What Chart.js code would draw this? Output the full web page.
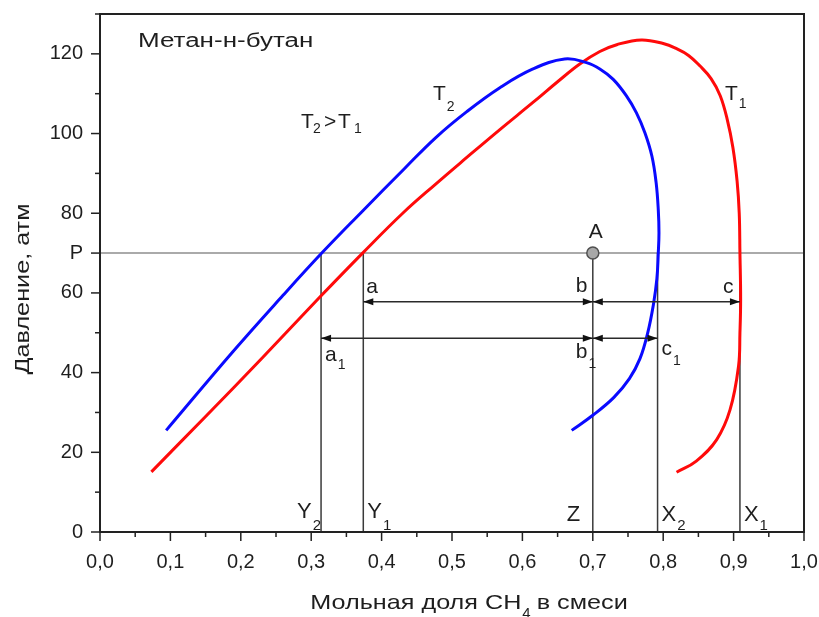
<!DOCTYPE html>
<html lang="ru">
<head>
  <meta charset="UTF-8">
  <title>Метан-н-бутан</title>
  <script src="https://cdn.jsdelivr.net/npm/chart.js@4"></script>
  <style>
    body { margin: 0; background: #fff; }
    .wrap { width: 819px; height: 617px; position: relative; }
  </style>
</head>
<body>
  <div class="wrap"><canvas id="phase"></canvas></div>

  <script>
    // phase envelope at T1 (red): mole fraction CH4 / pressure, atm
    const t1X = [0.073, 0.150, 0.230, 0.312, 0.373, 0.430, 0.476, 0.521, 0.568, 0.615, 0.650, 0.682, 0.710, 0.734,
                 0.769, 0.800, 0.819, 0.836, 0.852, 0.868, 0.881, 0.891, 0.899, 0.905, 0.908, 0.909, 0.910,
                 0.909, 0.907, 0.895, 0.876, 0.847, 0.819];
    const t1P = [15.1, 29.0, 43.6, 58.9, 70.0, 80.0, 87.2, 94.0, 101.0, 107.8, 113.0, 117.5, 120.6, 122.3,
                 123.5, 122.6, 121.3, 119.6, 117.0, 113.8, 109.5, 103.5, 96.5, 88.0, 80.0, 70.1, 58.4,
                 50.0, 41.6, 30.7, 23.2, 17.8, 15.0];

    // phase envelope at T2 (blue)
    const t2X = [0.094, 0.189, 0.260, 0.315, 0.371, 0.433, 0.477, 0.521, 0.568, 0.615, 0.660, 0.691, 0.710,
                 0.729, 0.748, 0.762, 0.774, 0.784, 0.790, 0.793, 0.794, 0.793, 0.791, 0.786, 0.778, 0.767,
                 0.752, 0.730, 0.700, 0.670];
    const t2P = [25.5, 45.3, 59.4, 70.0, 80.2, 91.3, 99.0, 105.5, 111.5, 116.2, 118.7, 117.8, 116.2,
                 113.6, 109.4, 105.2, 100.2, 94.3, 87.6, 80.9, 75.1, 70.0, 63.5, 57.0, 50.0, 43.5,
                 38.5, 33.8, 29.3, 25.5];

    // mixture composition Z and pressure P (point A)
    const zFrac = 0.70;
    const pLevel = 70;
    // compositions where the isobar P cuts the envelopes
    const y2Frac = 0.314, y1Frac = 0.374, x2Frac = 0.792, x1Frac = 0.909;
    // heights of the dimension lines a-b-c and a1-b1-c1
    const rowT1 = 57.8, rowT2 = 48.6;

    const FONT = '"Liberation Sans", Arial, sans-serif';
    const INK = '#1e1e1e';

    function pts(xs, ys) {
      return xs.map((v, i) => ({ x: v, y: ys[i] }));
    }

    function seg(ctx, x0, y0, x1, y1) {
      ctx.beginPath();
      ctx.moveTo(x0, y0);
      ctx.lineTo(x1, y1);
      ctx.stroke();
    }

    function head(ctx, tip, yy, dir) {
      ctx.beginPath();
      ctx.moveTo(tip, yy);
      ctx.lineTo(tip - dir * 10, yy - 3.5);
      ctx.lineTo(tip - dir * 10, yy + 3.5);
      ctx.closePath();
      ctx.fill();
    }

    // text with an optional subscript after it
    function label(ctx, txt, sub, x0, base, size, subDrop) {
      ctx.font = size + 'px ' + FONT;
      ctx.fillText(txt, x0, base);
      if (sub) {
        const w = ctx.measureText(txt).width;
        ctx.font = Math.round(size * 0.66) + 'px ' + FONT;
        ctx.fillText(sub, x0 + w + 1, base + subDrop);
      }
    }

    // the cyrillic captions are set wide
    function wide(ctx, txt, x0, base, sx) {
      ctx.save();
      ctx.translate(x0, base);
      ctx.scale(sx, 1);
      ctx.fillText(txt, 0, 0);
      ctx.restore();
    }

    const notes = {
      id: 'notes',
      beforeDatasetsDraw(chart) {
        const { ctx, chartArea: a, scales: { x, y } } = chart;
        const yp = y.getPixelForValue(pLevel);
        ctx.save();
        ctx.lineWidth = 1.5;
        // isobar P
        ctx.strokeStyle = '#8e8e8e';
        seg(ctx, a.left, yp, a.right, yp);
        // drop lines to the composition axis
        ctx.strokeStyle = '#3a3a3a';
        [y2Frac, y1Frac, zFrac, x2Frac, x1Frac].forEach(v => {
          const px = x.getPixelForValue(v);
          seg(ctx, px, y.getPixelForValue(0), px, yp);
        });
        ctx.restore();
      },
      afterDatasetsDraw(chart) {
        const { ctx, chartArea: a, scales: { x, y } } = chart;
        const X = v => x.getPixelForValue(v);
        const Y = v => y.getPixelForValue(v);
        ctx.save();

        // dimension lines with arrows
        ctx.strokeStyle = '#2a2a2a';
        ctx.fillStyle = '#111';
        ctx.lineWidth = 1.5;
        const span = (from, to, row) => {
          const yy = Y(row);
          seg(ctx, X(from), yy, X(to), yy);
          head(ctx, X(from), yy, -1);
          head(ctx, X(to), yy, 1);
        };
        span(y1Frac, zFrac, rowT1);
        span(zFrac, x1Frac, rowT1);
        span(y2Frac, zFrac, rowT2);
        span(zFrac, x2Frac, rowT2);

        // letters
        ctx.fillStyle = INK;
        ctx.textBaseline = 'alphabetic';
        ctx.textAlign = 'left';
        const up = Y(rowT1), lo = Y(rowT2), bot = Y(0);
        label(ctx, 'a', '', X(y1Frac) + 3, up - 9, 21, 0);
        label(ctx, 'b', '', X(zFrac) - 17, up - 10, 21, 0);
        label(ctx, 'c', '', X(x1Frac) - 17, up - 9, 21, 0);
        label(ctx, 'a', '1', X(y2Frac) + 4, lo + 23, 21, 8);
        label(ctx, 'b', '1', X(zFrac) - 17, lo + 20, 21, 10);
        label(ctx, 'c', '1', X(x2Frac) + 4, lo + 17, 21, 10);
        label(ctx, 'Y', '2', X(y2Frac) - 24, bot - 14, 22, 12);
        label(ctx, 'Y', '1', X(y1Frac) + 4, bot - 14, 22, 12);
        label(ctx, 'Z', '', X(zFrac) - 26, bot - 11, 22, 0);
        label(ctx, 'X', '2', X(x2Frac) + 4, bot - 11, 22, 9);
        label(ctx, 'X', '1', X(x1Frac) + 4, bot - 11, 22, 9);
        ctx.textAlign = 'center';
        label(ctx, 'A', '', X(zFrac) + 3, Y(pLevel) - 15, 21, 0);
        ctx.textAlign = 'left';

        // curve names
        label(ctx, 'T', '2', 433, 100, 21, 11);
        label(ctx, 'T', '1', 725, 100, 21, 8);
        label(ctx, 'T', '', 301, 128, 21, 0);
        label(ctx, '2', '', 313, 133, 14, 0);
        label(ctx, '>', '', 324, 128, 21, 0);
        label(ctx, 'T', '', 338, 128, 21, 0);
        label(ctx, '1', '', 354, 133, 14, 0);
        ctx.font = '20px ' + FONT;
        wide(ctx, 'Метан-н-бутан', 138, 47, 1.3);

        // frame and tick marks
        ctx.strokeStyle = '#222';
        ctx.lineWidth = 2;
        ctx.strokeRect(a.left, a.top, a.right - a.left, a.bottom - a.top);
        ctx.lineWidth = 1.5;
        x.ticks.forEach(t => {
          const major = Math.round(t.value * 100) % 10 === 0;
          const px = X(t.value);
          seg(ctx, px, a.bottom, px, a.bottom + (major ? 9 : 5));
        });
        y.ticks.forEach(t => {
          const major = t.value % 20 === 0 || t.value === pLevel;
          const py = Y(t.value);
          seg(ctx, a.left - (major ? 9 : 5), py, a.left, py);
        });

        // axis titles
        ctx.fillStyle = INK;
        ctx.textBaseline = 'middle';
        ctx.textAlign = 'center';
        ctx.font = '21px ' + FONT;
        ctx.save();
        ctx.translate(23, 289);
        ctx.rotate(-Math.PI / 2);
        wide(ctx, 'Давление, атм', 0, 0, 1.2);
        ctx.restore();

        ctx.textAlign = 'left';
        ctx.textBaseline = 'alphabetic';
        const sx = 1.2;
        const p1 = 'Мольная доля CH', p2 = ' в смеси';
        ctx.font = '21px ' + FONT;
        const w1 = ctx.measureText(p1).width * sx, w2 = ctx.measureText(p2).width * sx;
        ctx.font = '15px ' + FONT;
        const ws = ctx.measureText('4').width;
        const tx = 469 - (w1 + ws + w2) / 2;
        ctx.font = '21px ' + FONT;
        wide(ctx, p1, tx, 609, sx);
        ctx.font = '15px ' + FONT;
        ctx.fillText('4', tx + w1 + 1, 618);
        ctx.font = '21px ' + FONT;
        wide(ctx, p2, tx + w1 + ws, 609, sx);

        ctx.restore();
      }
    };

    new Chart(document.getElementById('phase'), {
      type: 'scatter',
      data: {
        datasets: [
          {
            label: 'A',
            data: [{ x: zFrac, y: pLevel }],
            pointRadius: 6,
            pointBackgroundColor: '#a8a8a8',
            pointBorderColor: '#505050',
            pointBorderWidth: 1.5
          },
          {
            label: 'T2',
            data: pts(t2X, t2P),
            showLine: true,
            borderColor: '#0a0aff',
            borderWidth: 3,
            pointRadius: 0,
            tension: 0.4
          },
          {
            label: 'T1',
            data: pts(t1X, t1P),
            showLine: true,
            borderColor: '#ff0a0a',
            borderWidth: 3,
            pointRadius: 0,
            tension: 0.4
          }
        ]
      },
      options: {
        responsive: true,
        maintainAspectRatio: false,
        animation: false,
        layout: { padding: { top: 14, right: 15, left: 0, bottom: 0 } },
        plugins: {
          legend: { display: false },
          tooltip: { enabled: false }
        },
        scales: {
          x: {
            type: 'linear',
            min: 0,
            max: 1,
            afterFit(scale) {
              scale.height = 85;
              scale.paddingLeft = 0;
              scale.paddingRight = 0;
            },
            grid: { display: false, drawTicks: false },
            border: { display: false },
            ticks: {
              stepSize: 0.05,
              autoSkip: false,
              maxRotation: 0,
              padding: 18,
              color: INK,
              font: { family: FONT, size: 20 },
              callback: v => Math.round(v * 100) % 10 === 0 ? v.toFixed(1).replace('.', ',') : ''
            }
          },
          y: {
            type: 'linear',
            min: 0,
            max: 130,
            afterFit(scale) {
              scale.width = 100;
              scale.paddingTop = 0;
              scale.paddingBottom = 0;
            },
            grid: { display: false, drawTicks: false },
            border: { display: false },
            ticks: {
              stepSize: 10,
              autoSkip: false,
              padding: 17,
              color: INK,
              font: { family: FONT, size: 20 },
              callback: v => v === pLevel ? 'P' : (v % 20 === 0 ? String(v) : '')
            }
          }
        }
      },
      plugins: [notes]
    });
  </script>
</body>
</html>
